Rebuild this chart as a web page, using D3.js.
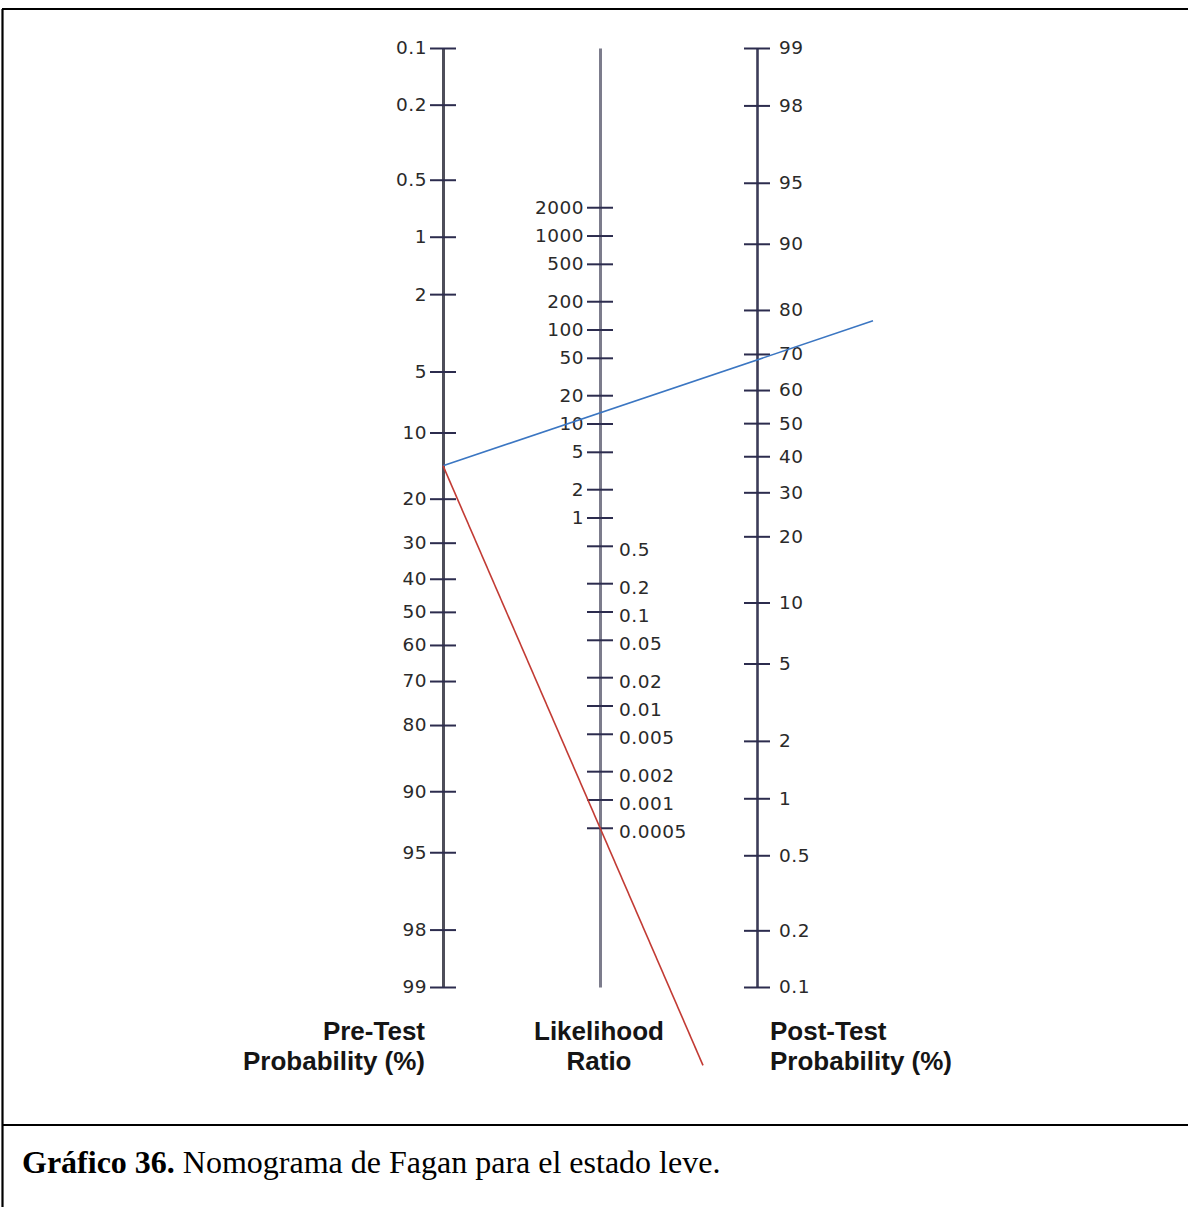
<!DOCTYPE html>
<html>
<head>
<meta charset="utf-8">
<script src="https://cdn.jsdelivr.net/npm/d3@7"></script>
<style>
  body { margin: 0; background: #fff; }
  svg { display: block; }
</style>
</head>
<body>
<svg id="chart" width="1188" height="1207"></svg>
<script>
// Fagan nomogram: pre-test probability, likelihood ratio, post-test probability
const preTestTicks = [0.1, 0.2, 0.5, 1, 2, 5, 10, 20, 30, 40, 50, 60, 70, 80, 90, 95, 98, 99];
const likelihoodTicks = [2000, 1000, 500, 200, 100, 50, 20, 10, 5, 2, 1,
  0.5, 0.2, 0.1, 0.05, 0.02, 0.01, 0.005, 0.002, 0.001, 0.0005];
const postTestTicks = [99, 98, 95, 90, 80, 70, 60, 50, 40, 30, 20, 10, 5, 2, 1, 0.5, 0.2, 0.1];

// Pre-test probability (%) and likelihood ratios (positive, negative)
const preTestProbability = 14.3;
const likelihoodRatios = [13, 0.0005];
const lineColors = ["#3b76c2", "#c23b34"];
const lineEndX = [873, 703];

const axisTitles = [
  ["Pre-Test", "Probability (%)"],
  ["Likelihood", "Ratio"],
  ["Post-Test", "Probability (%)"]
];

const svg = d3.select("#chart");
const W = 1188, H = 1207;
const yTop = 48, yBottom = 987;
const xPre = 443, xLR = 600, xPost = 757;
const tickHalf = 13;

svg.append("rect").attr("width", W).attr("height", H).attr("fill", "#fff");

// frame around the figure and caption
const frame = svg.append("g").attr("stroke", "#000").attr("stroke-width", 2.2);
frame.append("line").attr("x1", 2).attr("x2", W).attr("y1", 9).attr("y2", 9);
frame.append("line").attr("x1", 2.5).attr("x2", 2.5).attr("y1", 9).attr("y2", H);
frame.append("line").attr("x1", 2).attr("x2", W).attr("y1", 1125).attr("y2", 1125);

// logit of a percentage
const logit = p => Math.log(p / (100 - p));

const yPre = d3.scaleLinear().domain([logit(0.1), logit(99)]).range([yTop, yBottom]);
const yPost = d3.scaleLinear().domain([logit(99), logit(0.1)]).range([yTop, yBottom]);
// the middle scale sits halfway: y = mid0 - (k/2) * ln(LR)
const mid0 = (yPre(0) + yPost(0)) / 2;
const halfK = (yPre(1) - yPre(0)) / 2;
const yLR = d3.scaleLog()
  .domain([Math.exp((mid0 - yTop) / halfK), Math.exp((mid0 - yBottom) / halfK)])
  .range([yTop, yBottom]);

const labelFont = "'DejaVu Sans', Verdana, sans-serif";

function styleAxis(g, side, lineColor, lineWidth, textOffset, keepDomain) {
  g.attr("font-family", labelFont).attr("font-size", 18.5);
  if (keepDomain) {
    g.select(".domain").attr("stroke", lineColor).attr("stroke-width", lineWidth);
  } else {
    g.select(".domain").remove();
  }
  g.selectAll(".tick line")
    .attr("x1", -tickHalf).attr("x2", tickHalf)
    .attr("stroke", "#2c2c4e").attr("stroke-width", 2);
  g.selectAll(".tick text")
    .attr("x", side * textOffset)
    .attr("letter-spacing", 0.5)
    .attr("fill", "#2a2a2a");
}

// Pre-test axis
const gPre = svg.append("g").attr("transform", `translate(${xPre},0)`)
  .call(d3.axisLeft(yPre)
    .tickValues(preTestTicks.map(logit))
    .tickFormat((d, i) => String(preTestTicks[i]))
    .tickSizeOuter(0));
styleAxis(gPre, -1, "#4e4e5a", 3, 16, true);

// Likelihood ratio axis: ratios >= 1 labelled on the left, < 1 on the right
const gLRHigh = svg.append("g").attr("transform", `translate(${xLR},0)`)
  .call(d3.axisLeft(yLR)
    .tickValues(likelihoodTicks.filter(v => v >= 1))
    .tickFormat(d => String(d))
    .tickSizeOuter(0));
styleAxis(gLRHigh, -1, "#7c7c8c", 3, 16, true);
const gLRLow = svg.append("g").attr("transform", `translate(${xLR},0)`)
  .call(d3.axisRight(yLR)
    .tickValues(likelihoodTicks.filter(v => v < 1))
    .tickFormat(d => String(d))
    .tickSizeOuter(0));
styleAxis(gLRLow, 1, "#7c7c8c", 3, 19, false);
gLRLow.selectAll(".tick text").attr("text-anchor", "start").attr("y", 4);

// Post-test axis
const gPost = svg.append("g").attr("transform", `translate(${xPost},0)`)
  .call(d3.axisRight(yPost)
    .tickValues(postTestTicks.map(logit))
    .tickFormat((d, i) => String(postTestTicks[i]))
    .tickSizeOuter(0));
styleAxis(gPost, 1, "#3c3c58", 2.6, 22, true);

// Nomogram lines: from the pre-test point through the likelihood ratio
const y0 = yPre(logit(preTestProbability));
likelihoodRatios.forEach((lr, i) => {
  const y1 = yLR(lr);
  const slope = (y1 - y0) / (xLR - xPre);
  const x2 = lineEndX[i];
  svg.append("line")
    .attr("x1", xPre).attr("y1", y0)
    .attr("x2", x2).attr("y2", y0 + slope * (x2 - xPre))
    .attr("stroke", lineColors[i])
    .attr("stroke-width", 1.6);
});

// Axis titles
const titleFont = "'Liberation Sans', Arial, sans-serif";
const titleSpecs = [
  { x: 425, anchor: "end" },
  { x: 599, anchor: "middle" },
  { x: 770, anchor: "start" }
];
axisTitles.forEach((lines, i) => {
  lines.forEach((txt, j) => {
    svg.append("text")
      .attr("x", titleSpecs[i].x)
      .attr("y", 1040 + j * 30)
      .attr("text-anchor", titleSpecs[i].anchor)
      .attr("font-family", titleFont)
      .attr("font-weight", "bold")
      .attr("font-size", 26)
      .attr("fill", "#151515")
      .text(txt);
  });
});

// Caption
const caption = svg.append("text")
  .attr("x", 22).attr("y", 1173)
  .attr("font-family", "'Liberation Serif', 'Times New Roman', serif")
  .attr("font-size", 32)
  .attr("fill", "#000");
caption.append("tspan").attr("font-weight", "bold").text("Gráfico 36.");
caption.append("tspan").text(" Nomograma de Fagan para el estado leve.");
</script>
</body>
</html>
